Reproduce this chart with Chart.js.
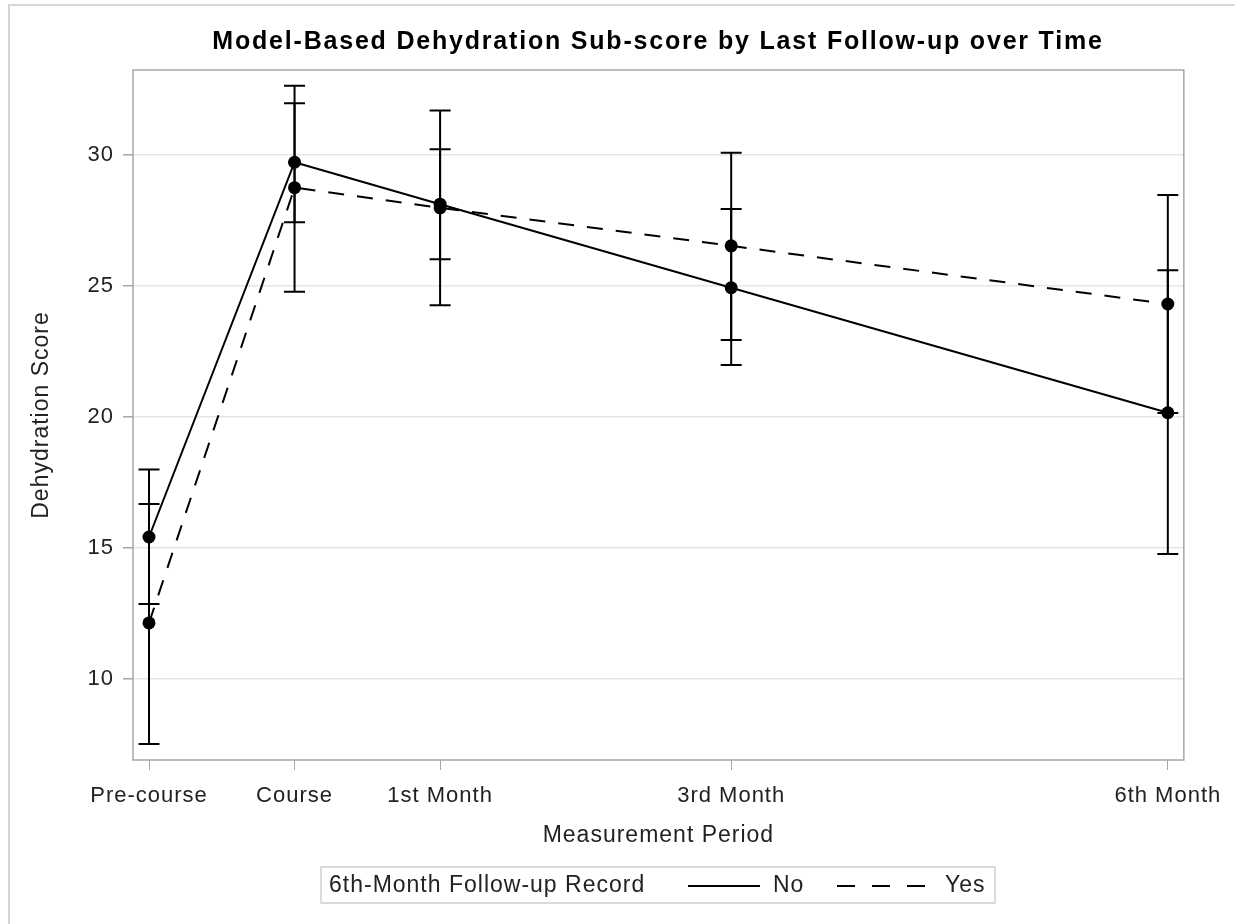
<!DOCTYPE html>
<html>
<head>
<meta charset="utf-8">
<script src="https://cdn.jsdelivr.net/npm/chart.js@4.4.1/dist/chart.umd.min.js"></script>
<style>
body{margin:0;background:#fff;overflow:hidden}
#frame{position:absolute;left:8px;top:4px;width:1240px;height:930px;border-left:2px solid #d6d6d6;border-top:2px solid #d6d6d6}
#c{position:absolute;left:0;top:0}
</style>
</head>
<body>
<div id="frame"></div>
<canvas id="c" width="1235" height="924"></canvas>
<script>
const canvas = document.getElementById("c")

// measurement periods (months relative to the course) and their labels
const periods = [-1, 0, 1, 3, 6]
const period_labels = ["Pre-course", "Course", "1st Month", "3rd Month", "6th Month"]

// "No" group: model estimate and confidence limits
const no_mean  = [15.42, 29.72, 28.12, 24.93, 20.16]
const no_lower = [12.86, 27.43, 26.02, 21.98, 14.77]
const no_upper = [18.00, 31.97, 30.22, 27.94, 25.60]

// "Yes" group
const yes_mean  = [12.14, 28.75, 27.98, 26.53, 24.31]
const yes_lower = [7.52, 24.78, 24.26, 22.94, 20.15]
const yes_upper = [16.68, 32.64, 31.69, 30.08, 28.47]

const y_ticks = [10, 15, 20, 25, 30]

const font_family = "'Liberation Sans', Arial, sans-serif"
const text_spacing = "1px"
const dash = [16, 13]

function to_points(means){
    return periods.map((p, i) => ({x: p, y: means[i]}))
}

// letter spacing gets lost whenever the canvas is resized, so set it each pass
const spacing_plugin = {
    id: "spacing",
    beforeUpdate(chart){ chart.ctx.letterSpacing = text_spacing },
    beforeDraw(chart){ chart.ctx.letterSpacing = text_spacing }
}

const error_bars = {
    id: "error_bars",
    beforeDatasetsDraw(chart){
        const ctx = chart.ctx
        const xs = chart.scales.x
        const ys = chart.scales.y
        const area = chart.chartArea

        ctx.save()
        // plot frame
        ctx.strokeStyle = "#a3a9af"
        ctx.lineWidth = 1.5
        ctx.strokeRect(area.left, area.top, area.right - area.left, area.bottom - area.top)

        ctx.strokeStyle = "#000"
        ctx.lineWidth = 2
        const groups = [[no_lower, no_upper], [yes_lower, yes_upper]]
        for (const [lo, hi] of groups){
            for (let i = 0; i < periods.length; i++){
                const x = xs.getPixelForValue(periods[i])
                const y1 = ys.getPixelForValue(lo[i])
                const y2 = ys.getPixelForValue(hi[i])
                ctx.beginPath()
                ctx.moveTo(x, y1); ctx.lineTo(x, y2)
                ctx.moveTo(x - 10.5, y1); ctx.lineTo(x + 10.5, y1)
                ctx.moveTo(x - 10.5, y2); ctx.lineTo(x + 10.5, y2)
                ctx.stroke()
            }
        }
        ctx.restore()
    }
}

const title_and_legend = {
    id: "title_and_legend",
    afterDraw(chart){
        const ctx = chart.ctx
        ctx.save()
        ctx.letterSpacing = "1.8px"
        ctx.fillStyle = "#000"
        ctx.textBaseline = "middle"
        ctx.textAlign = "center"
        ctx.font = "bold 25px " + font_family
        ctx.fillText("Model-Based Dehydration Sub-score by Last Follow-up over Time", 658, 42)

        // legend box
        ctx.strokeStyle = "#cfcfcf"
        ctx.lineWidth = 1.5
        ctx.strokeRect(321, 867, 674, 36)

        ctx.letterSpacing = text_spacing
        ctx.font = "23px " + font_family
        ctx.fillStyle = "#222"
        ctx.textAlign = "left"
        ctx.fillText("6th-Month Follow-up Record", 329, 886)
        ctx.fillText("No", 773, 886)
        ctx.fillText("Yes", 945, 886)

        ctx.strokeStyle = "#000"
        ctx.lineWidth = 1.8
        ctx.beginPath(); ctx.moveTo(688, 886); ctx.lineTo(760, 886); ctx.stroke()
        ctx.setLineDash([18, 17])
        ctx.beginPath(); ctx.moveTo(837, 886); ctx.lineTo(925, 886); ctx.stroke()
        ctx.restore()
    }
}

Chart.defaults.font.family = font_family

const chart = new Chart(canvas.getContext("2d"), {
    type: "scatter",
    data: {
        datasets: [
            {
                label: "No",
                data: to_points(no_mean),
                showLine: true,
                borderColor: "#000",
                borderWidth: 2,
                backgroundColor: "#000",
                pointRadius: 6.5,
                pointBorderWidth: 0,
                pointBackgroundColor: "#000"
            },
            {
                label: "Yes",
                data: to_points(yes_mean),
                showLine: true,
                borderColor: "#000",
                borderWidth: 2,
                borderDash: dash,
                backgroundColor: "#000",
                pointRadius: 6.5,
                pointBorderWidth: 0,
                pointBackgroundColor: "#000"
            }
        ]
    },
    options: {
        responsive: false,
        animation: false,
        layout: {padding: {top: 70, right: 50, bottom: 74, left: 0}},
        plugins: {
            legend: {display: false},
            title: {display: false},
            tooltip: {enabled: false}
        },
        scales: {
            x: {
                type: "linear",
                min: -1.11,
                max: 6.11,
                afterBuildTicks: s => { s.ticks = periods.map(v => ({value: v})) },
                afterFit: s => { s.height = 90 },
                ticks: {
                    callback: v => period_labels[periods.indexOf(v)],
                    color: "#222",
                    font: {size: 22},
                    padding: 13,
                    maxRotation: 0,
                    autoSkip: false
                },
                grid: {drawOnChartArea: false, tickLength: 10, tickColor: "#a3a9af"},
                border: {display: false},
                title: {
                    display: true,
                    text: "Measurement Period",
                    color: "#222",
                    font: {size: 23},
                    padding: {top: 0, bottom: 1}
                }
            },
            y: {
                min: 6.91,
                max: 33.24,
                afterBuildTicks: s => { s.ticks = y_ticks.map(v => ({value: v})) },
                afterFit: s => { s.width = 133 },
                ticks: {color: "#222", font: {size: 22}, padding: 9},
                grid: {color: "#e6e6e6", lineWidth: 1.5, tickLength: 10, tickColor: "#a3a9af"},
                border: {display: false},
                title: {
                    display: true,
                    text: "Dehydration Score",
                    color: "#222",
                    font: {size: 23},
                    padding: {top: 28, bottom: 0}
                }
            }
        }
    },
    plugins: [spacing_plugin, error_bars, title_and_legend]
})
</script>
</body>
</html>
